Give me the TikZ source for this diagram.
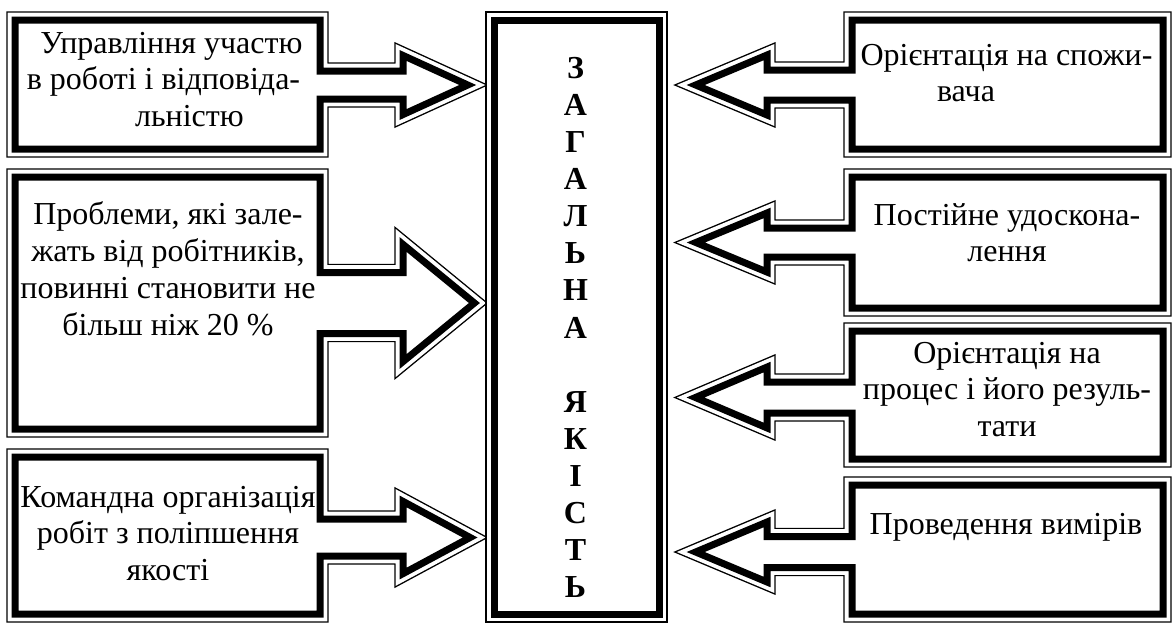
\documentclass[tikz,border=0pt]{standalone}
\usepackage{fontspec}
\setmainfont{Liberation Serif}
\tikzset{
  outerline/.style={line width=17.4pt, black, line join=miter},
  gapline/.style={line width=14.6pt, white, line join=miter},
  thickline/.style={line width=7pt, black, line join=miter},
  bodytext/.style={font=\fontsize{32}{36.9}\selectfont, align=center, inner sep=0pt},
  titletext/.style={font=\fontsize{32}{37.07}\selectfont\bfseries, align=center, inner sep=0pt},
}
\newcommand\framedshape[1]{%
  \draw[outerline] #1;
  \draw[gapline] #1;
  \fill[white] #1;
  \draw[thickline] #1;
}
% left callout: #1 top, #2 bottom, #3 arrow centre, #4 stem half height, #5 head half height (outer line)
\newcommand\leftcallout[5]{%
  \pgfmathsetmacro\cAl{atan(#5/92)}%
  \pgfmathsetmacro\cTip{487-8/sin(\cAl)}%
  \pgfmathsetmacro\cH{#5-8*tan(\cAl)-8/cos(\cAl)}%
  \pgfmathsetmacro\cS{#4-8}%
  \pgfmathsetmacro\cYa{#1+8}%
  \pgfmathsetmacro\cYb{#2-8}%
  \framedshape{(15,\cYa) -- (320,\cYa) -- (320,#3-\cS) -- (403,#3-\cS) -- (403,#3-\cH) -- (\cTip,#3) -- (403,#3+\cH) -- (403,#3+\cS) -- (320,#3+\cS) -- (320,\cYb) -- (15,\cYb) -- cycle}
}
\newcommand\rightcallout[5]{%
  \pgfmathsetmacro\cAl{atan(#5/100)}%
  \pgfmathsetmacro\cTip{675+8/sin(\cAl)}%
  \pgfmathsetmacro\cH{#5-8*tan(\cAl)-8/cos(\cAl)}%
  \pgfmathsetmacro\cS{#4-8}%
  \pgfmathsetmacro\cYa{#1+8}%
  \pgfmathsetmacro\cYb{#2-8}%
  \framedshape{(1163,\cYa) -- (852,\cYa) -- (852,#3-\cS) -- (767,#3-\cS) -- (767,#3-\cH) -- (\cTip,#3) -- (767,#3+\cH) -- (767,#3+\cS) -- (852,#3+\cS) -- (852,\cYb) -- (1163,\cYb) -- cycle}
}
\begin{document}
\begin{tikzpicture}[x=1pt,y=-1pt]
  \useasboundingbox (0,0) rectangle (1173,622);
  \fill[white] (0,0) rectangle (1173,622);

  % left callouts
  \leftcallout{12}{157}{85}{22}{42}
  \leftcallout{169}{437}{303}{38.5}{75.5}
  \leftcallout{449}{622}{537.5}{26.5}{49.5}

  % right callouts
  \rightcallout{12}{157}{85}{23}{42}
  \rightcallout{169}{316}{242.5}{22.5}{41.5}
  \rightcallout{323}{467}{397.5}{23.5}{42.5}
  \rightcallout{477}{622}{552}{23.5}{42}

  % central box
  \framedshape{(494,20) rectangle (659,614)}

  % texts
  \node[bodytext] (l1) at (167.5,82.6) {\hspace*{8pt}Управління участю\strut\\
    \hspace*{-8pt}в роботі і відповіда-\strut\\
    \hspace*{44pt}льністю\strut};
  \node[bodytext] (l2) at (168,272.6) {Проблеми, які зале-\strut\\
    жать від робітників,\strut\\
    повинні становити не\strut\\
    більш ніж 20 \%\strut};
  \node[bodytext] (l3) at (168,536.6) {Командна організація\strut\\
    робіт з поліпшення\strut\\
    якості\strut};

  \node[bodytext] (r1) at (1006.5,76.1) {Орієнтація на спожи-\strut\\
    вача\hspace*{81pt}\strut};
  \node[bodytext] (r2) at (1007,236.1) {Постійне удоскона-\strut\\
    лення\strut};
  \node[bodytext] (r3) at (1007,392.6) {Орієнтація на\strut\\
    процес і його резуль-\strut\\
    тати\strut};
  \node[bodytext] (r4) at (1006,527.6) {Проведення вимірів\strut};

  \node[titletext] (title) at (575.5,330.6) {З\strut\\ А\strut\\ Г\strut\\ А\strut\\ Л\strut\\ Ь\strut\\ Н\strut\\ А\strut\\ \strut\\ Я\strut\\ К\strut\\ І\strut\\ С\strut\\ Т\strut\\ Ь\strut};
\end{tikzpicture}
\end{document}
